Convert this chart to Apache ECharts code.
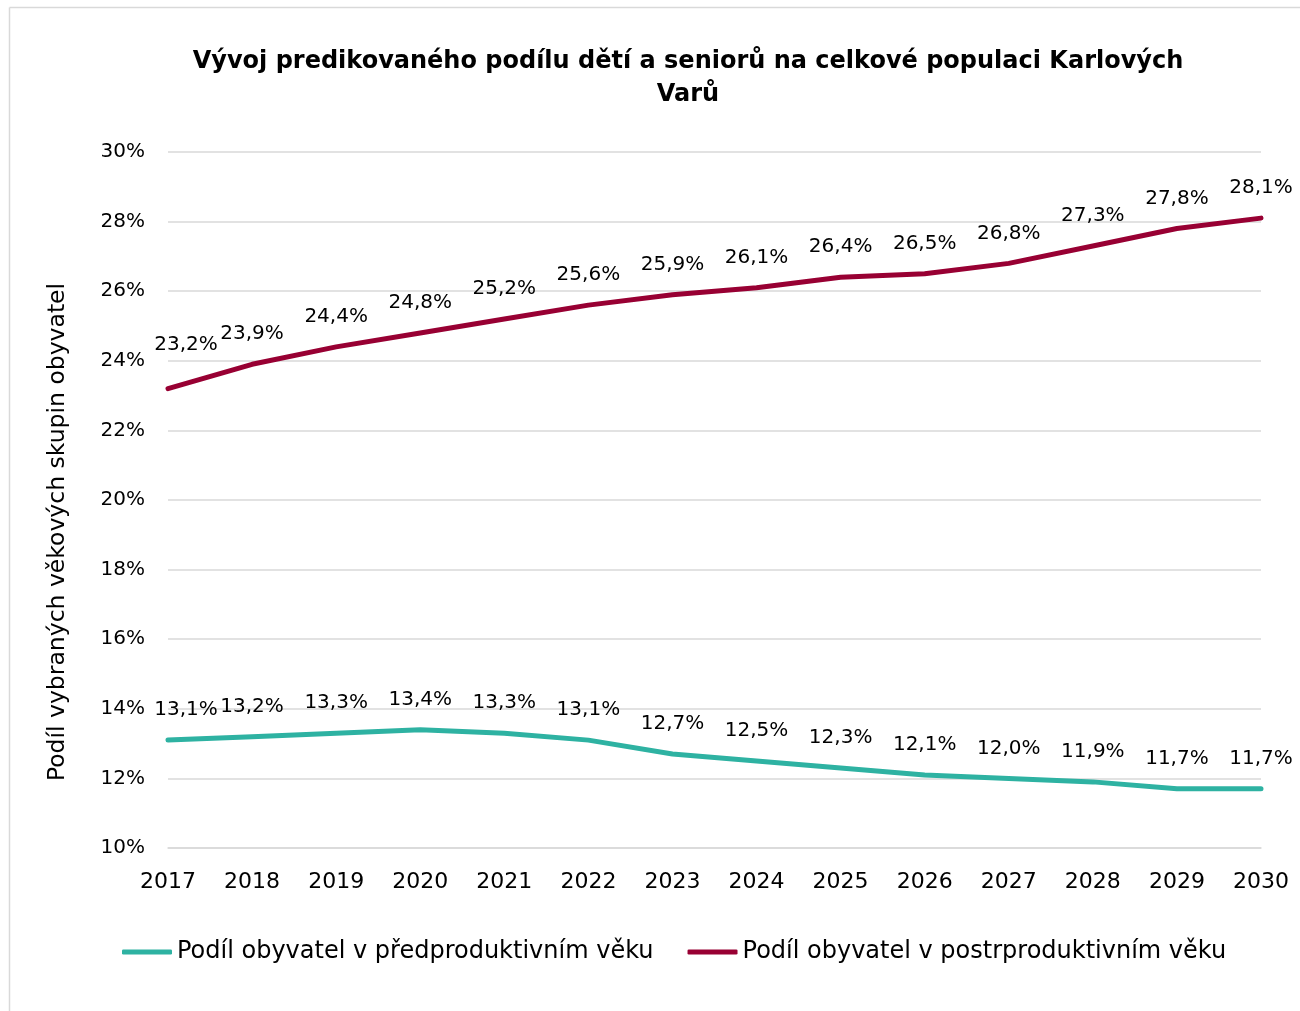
<!DOCTYPE html>
<html>
<head>
<meta charset="utf-8">
<script src="https://cdn.jsdelivr.net/npm/echarts@6/dist/echarts.min.js"></script>
<style>html,body{margin:0;padding:0;background:#fff}#c{width:1300px;height:1011px}</style>
</head>
<body>
<div id="c"></div>
<script>
const years = ['2017','2018','2019','2020','2021','2022','2023','2024','2025','2026','2027','2028','2029','2030'];
const preproductive = [13.1,13.2,13.3,13.4,13.3,13.1,12.7,12.5,12.3,12.1,12.0,11.9,11.7,11.7];
const postproductive = [23.2,23.9,24.4,24.8,25.2,25.6,25.9,26.1,26.4,26.5,26.8,27.3,27.8,28.1];
const yTicks = {min:10, max:30, step:2};
const titleText = 'Vývoj predikovaného podílu dětí a seniorů na celkové populaci Karlových\nVarů';
const yName = 'Podíl vybraných věkových skupin obyvatel';
const seriesNames = ['Podíl obyvatel v předproduktivním věku','Podíl obyvatel v postrproduktivním věku'];

const FONT = 'DejaVu Sans';
const fmt = v => v.toFixed(1).replace('.', ',') + '%';

function withFirstOffset(arr, off){
  return arr.map((v,i)=> i===0 ? {value:v, label:{offset:off}} : v);
}

const chart = echarts.init(document.getElementById('c'), null, {renderer:'canvas'});
chart.setOption({
  backgroundColor:'#fff',
  animation:false,
  textStyle:{fontFamily:FONT},
  graphic:[
    {type:'line', shape:{x1:9.5,y1:7.5,x2:1300,y2:7.5}, style:{stroke:'#d9d9d9', lineWidth:1.5}, silent:true},
    {type:'line', shape:{x1:9.5,y1:7.5,x2:9.5,y2:1011}, style:{stroke:'#d9d9d9', lineWidth:1.5}, silent:true}
  ],
  title:{
    text:titleText, left:683, top:40, textAlign:'center',
    textStyle:{fontFamily:FONT, fontWeight:'bold', fontSize:24, color:'#000', lineHeight:33}
  },
  grid:{left:168, right:39, top:152, bottom:163, containLabel:false},
  legend:{
    left:117, top:935, itemWidth:50, itemHeight:5, itemGap:34, icon:'roundRect',
    textStyle:{fontFamily:FONT, fontSize:24, color:'#000'},
    data:seriesNames
  },
  xAxis:{
    type:'category', data:years, boundaryGap:false,
    axisLine:{show:true, lineStyle:{color:'#d9d9d9', width:1.5}},
    axisTick:{show:false},
    axisLabel:{fontFamily:FONT, fontSize:22, color:'#000', margin:23}
  },
  yAxis:{
    type:'value', min:yTicks.min, max:yTicks.max, interval:yTicks.step,
    name:yName, nameLocation:'middle', nameRotate:90, nameGap:98,
    nameTextStyle:{fontFamily:FONT, fontSize:23.5, color:'#000', padding:[0,64,0,0]},
    axisLine:{show:false}, axisTick:{show:false},
    axisLabel:{fontFamily:FONT, fontSize:20, color:'#000', margin:23, formatter:v=>v+'%'},
    splitLine:{lineStyle:{color:'#d9d9d9', width:1.5}}
  },
  series:[
    {
      name:seriesNames[0], type:'line', data:withFirstOffset(preproductive,[18,0]),
      symbol:'circle', symbolSize:0, showSymbol:true, lineStyle:{width:5, color:'#2EB2A2', cap:'round'}, itemStyle:{color:'#2EB2A2'},
      label:{show:true, position:'top', distance:20, fontFamily:FONT, fontSize:20, color:'#000', formatter:p=>fmt(p.value)}
    },
    {
      name:seriesNames[1], type:'line', data:withFirstOffset(postproductive,[18,-14]),
      symbol:'circle', symbolSize:0, showSymbol:true, lineStyle:{width:5, color:'#980033', cap:'round'}, itemStyle:{color:'#980033'},
      label:{show:true, position:'top', distance:20, fontFamily:FONT, fontSize:20, color:'#000', formatter:p=>fmt(p.value)}
    }
  ]
});
</script>
</body>
</html>
